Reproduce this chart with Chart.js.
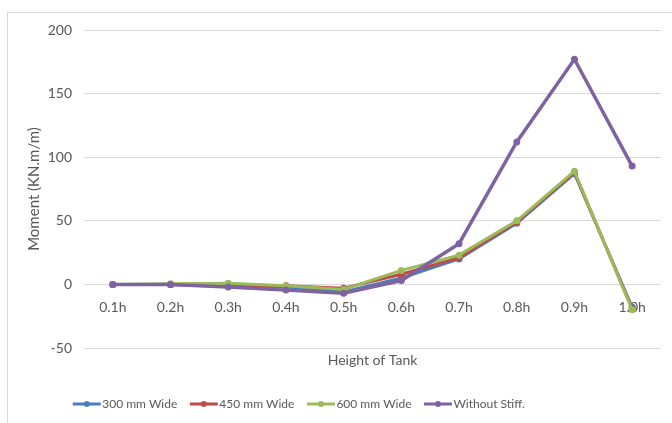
<!DOCTYPE html>
<html>
<head>
<meta charset="utf-8">
<script src="https://cdn.jsdelivr.net/npm/chart.js@4/dist/chart.umd.min.js"></script>
<style>
  body { margin: 0; background: #fff; }
  #frame { position: absolute; left: 7px; top: 12px; width: 680px; height: 420px; border-left: 1px solid #d9d9d9; border-top: 1px solid #d9d9d9; }
  #wrap { position: absolute; left: 0; top: 0; width: 672px; height: 423px; }
</style>
</head>
<body>
<div id="frame"></div>
<div id="wrap"><canvas id="myChart" width="672" height="423"></canvas></div>
<script>
const heights = ["0.1h", "0.2h", "0.3h", "0.4h", "0.5h", "0.6h", "0.7h", "0.8h", "0.9h", "1.0h"];
const wide300 = [0, 0, -1, -2, -6, 5, 20, 48, 87, -18];
const wide450 = [0, 0, -0.5, -1, -3, 8, 21, 49, 88, -19];
const wide600 = [0, 0.5, 1, -1, -4, 11, 23, 50, 89, -20];
const noStiff = [0, 0, -2, -4.5, -7, 3, 32, 112, 177, 93];
const yTicks = [-50, 0, 50, 100, 150, 200];

const seriesNames = ["300 mm Wide", "450 mm Wide", "600 mm Wide", "Without Stiff."];
const seriesColors = ["#4a7ebb", "#be4b48", "#9bbb59", "#7f63a1"];
const seriesData = [wide300, wide450, wide600, noStiff];

const font = "Lato, 'Liberation Sans', sans-serif";
const grey = "#595959";

// legend marker: line with a dot, drawn in the right part of a wider image
function legendIcon(color) {
  const c = document.createElement("canvas");
  c.width = 46; c.height = 10;
  const g = c.getContext("2d");
  g.strokeStyle = color; g.lineWidth = 3;
  g.beginPath(); g.moveTo(17, 5); g.lineTo(45, 5); g.stroke();
  g.fillStyle = color;
  g.beginPath(); g.arc(31, 5, 3, 0, Math.PI * 2); g.fill();
  return c;
}

const datasets = seriesNames.map((name, i) => ({
  label: name,
  data: seriesData[i],
  borderColor: seriesColors[i],
  backgroundColor: seriesColors[i],
  borderWidth: i === 3 ? 3.5 : 3,
  pointRadius: 3.5,
  pointHoverRadius: 3.5,
  pointBorderWidth: 0,
  order: 3 - i,
  xAxisID: "x",
  tension: 0
}));

const legendShift = {
  id: "legendShift",
  afterLayout(chart) {
    chart.legend.left -= 48;
    chart.legend.right -= 48;
  }
};

new Chart("myChart", {
  type: "line",
  data: { labels: heights, datasets: datasets },
  plugins: [legendShift],
  options: {
    responsive: false,
    animation: false,
    layout: { padding: { left: 21, right: 11, top: 30, bottom: 3 } },
    plugins: {
      tooltip: { enabled: false },
      legend: {
        position: "bottom",
        labels: {
          font: { family: font, size: 12 },
          color: grey,
          usePointStyle: true,
          pointStyleWidth: 35,
          padding: 1,
          generateLabels: () => seriesNames.map((name, i) => ({
            text: name,
            pointStyle: legendIcon(seriesColors[i]),
            fillStyle: seriesColors[i],
            strokeStyle: seriesColors[i],
            fontColor: grey,
            lineWidth: 0,
            datasetIndex: i
          }))
        }
      }
    },
    scales: {
      x: {
        type: "category",
        position: { y: 0 },
        offset: true,
        grid: { display: false },
        border: { display: false },
        ticks: { color: grey, font: { family: font, size: 14 }, padding: 7, maxRotation: 0 }
      },
      x2: {
        type: "category",
        labels: heights,
        position: "bottom",
        offset: true,
        grid: { display: false },
        border: { display: false },
        ticks: { display: false },
        afterFit: axis => { axis.height = 49; },
        title: { display: true, text: "Height of Tank", color: grey, font: { family: font, size: 14 }, padding: { top: 0, bottom: 28 } }
      },
      y: {
        min: -50,
        max: 200,
        afterBuildTicks: axis => { axis.ticks = yTicks.map(v => ({ value: v })); },
        afterFit: axis => { axis.width = 63; },
        grid: { color: "#d9d9d9", drawTicks: false },
        border: { display: false },
        ticks: { color: grey, font: { family: font, size: 14 }, padding: 12 },
        title: { display: true, text: "Moment (KN.m/m)", color: grey, font: { family: font, size: 15 }, padding: { bottom: 0 } }
      }
    }
  }
});
</script>
</body>
</html>
